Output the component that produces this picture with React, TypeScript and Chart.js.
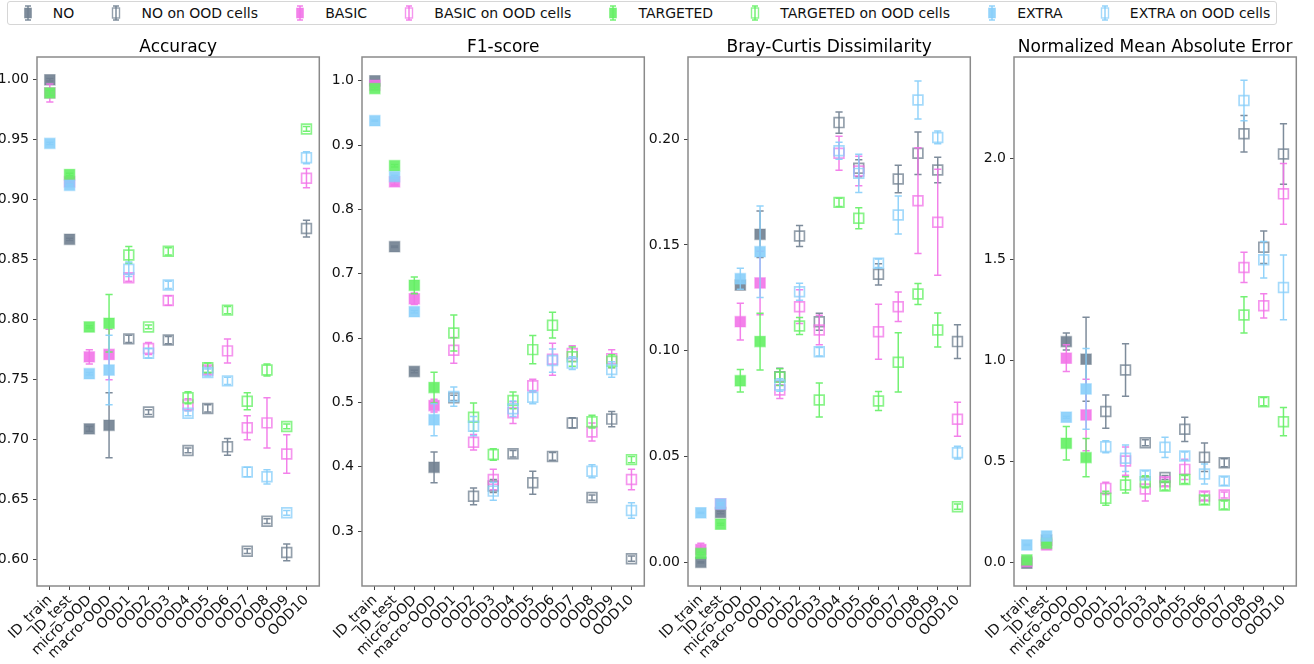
import React, { useEffect, useRef } from "react";
import { Chart, registerables } from "chart.js";

Chart.register(...registerables);

const categories = ["ID_train", "ID_test", "micro-OOD", "macro-OOD", "OOD1", "OOD2", "OOD3", "OOD4", "OOD5", "OOD6", "OOD7", "OOD8", "OOD9", "OOD10"];
const seriesNames = ["NO", "BASIC", "TARGETED", "EXTRA"];
const seriesRGB = ["112,128,144", "242,115,232", "100,240,100", "135,206,250"];
const FILLED_COUNT = 4;

// Accuracy
const accNO = [1.0, 0.867, 0.709, 0.712, 0.784, 0.723, 0.783, 0.691, 0.726, 0.694, 0.607, 0.632, 0.606, 0.876];
const accNOErr = [0.001, 0.001, 0.002, 0.027, 0.003, 0.002, 0.003, 0.002, 0.003, 0.007, 0.002, 0.002, 0.007, 0.007];
const accBASIC = [0.989, 0.915, 0.769, 0.771, 0.835, 0.776, 0.816, 0.729, 0.758, 0.774, 0.71, 0.714, 0.688, 0.918];
const accBASICErr = [0.0075, 0.002, 0.006, 0.021, 0.003, 0.005, 0.004, 0.005, 0.003, 0.01, 0.01, 0.021, 0.016, 0.008];
const accTARGETED = [0.989, 0.921, 0.794, 0.797, 0.854, 0.794, 0.857, 0.735, 0.76, 0.808, 0.732, 0.758, 0.711, 0.959];
const accTARGETEDErr = [0.002, 0.001, 0.001, 0.024, 0.007, 0.0015, 0.003, 0.005, 0.004, 0.003, 0.007, 0.005, 0.002, 0.002];
const accEXTRA = [0.947, 0.912, 0.755, 0.758, 0.842, 0.772, 0.829, 0.722, 0.756, 0.749, 0.673, 0.669, 0.639, 0.935];
const accEXTRAErr = [0.001, 0.001, 0.001, 0.029, 0.006, 0.004, 0.003, 0.002, 0.003, 0.003, 0.004, 0.006, 0.002, 0.005];
const accTicks = [0.6, 0.65, 0.7, 0.75, 0.8, 0.85, 0.9, 0.95, 1.0];
const accTickLabels = ["0.60", "0.65", "0.70", "0.75", "0.80", "0.85", "0.90", "0.95", "1.00"];

// F1-score
const f1NO = [1.0, 0.742, 0.548, 0.399, 0.507, 0.354, 0.37, 0.42, 0.375, 0.416, 0.468, 0.352, 0.474, 0.257];
const f1NOErr = [0.001, 0.001, 0.002, 0.024, 0.004, 0.013, 0.01, 0.005, 0.018, 0.006, 0.008, 0.004, 0.012, 0.004];
const f1BASIC = [0.993, 0.843, 0.661, 0.495, 0.581, 0.438, 0.38, 0.484, 0.526, 0.567, 0.576, 0.454, 0.568, 0.38];
const f1BASICErr = [0.002, 0.005, 0.009, 0.01, 0.02, 0.012, 0.016, 0.017, 0.01, 0.025, 0.012, 0.014, 0.014, 0.016];
const f1TARGETED = [0.988, 0.868, 0.682, 0.523, 0.608, 0.477, 0.419, 0.503, 0.582, 0.62, 0.571, 0.47, 0.564, 0.411];
const f1TARGETEDErr = [0.002, 0.002, 0.013, 0.024, 0.028, 0.022, 0.009, 0.013, 0.022, 0.02, 0.015, 0.01, 0.01, 0.005];
const f1EXTRA = [0.938, 0.851, 0.641, 0.473, 0.509, 0.463, 0.362, 0.49, 0.508, 0.565, 0.561, 0.393, 0.551, 0.332];
const f1EXTRAErr = [0.001, 0.002, 0.002, 0.025, 0.015, 0.015, 0.014, 0.012, 0.01, 0.018, 0.01, 0.01, 0.012, 0.012];
const f1Ticks = [0.3, 0.4, 0.5, 0.6, 0.7, 0.8, 0.9, 1.0];
const f1TickLabels = ["0.3", "0.4", "0.5", "0.6", "0.7", "0.8", "0.9", "1.0"];

// Bray-Curtis Dissimilarity
const bcNO = [0.0, 0.0235, 0.131, 0.155, 0.0877, 0.1542, 0.1137, 0.2078, 0.1862, 0.1361, 0.1811, 0.1933, 0.1854, 0.1043];
const bcNOErr = [0.0003, 0.0005, 0.002, 0.011, 0.004, 0.005, 0.004, 0.005, 0.004, 0.005, 0.0065, 0.01, 0.006, 0.008];
const bcBASIC = [0.006, 0.0276, 0.1137, 0.132, 0.0814, 0.1208, 0.1098, 0.1933, 0.1849, 0.109, 0.1208, 0.1709, 0.1607, 0.0676];
const bcBASICErr = [0.003, 0.0005, 0.0087, 0.015, 0.004, 0.008, 0.007, 0.008, 0.007, 0.013, 0.007, 0.025, 0.025, 0.008];
const bcTARGETED = [0.0042, 0.018, 0.0858, 0.1043, 0.0875, 0.1117, 0.0767, 0.1701, 0.1626, 0.0762, 0.0945, 0.1268, 0.1098, 0.0263];
const bcTARGETEDErr = [0.0005, 0.0005, 0.0053, 0.0134, 0.004, 0.004, 0.008, 0.002, 0.005, 0.0045, 0.014, 0.005, 0.008, 0.0012];
const bcEXTRA = [0.0234, 0.0276, 0.134, 0.1468, 0.0838, 0.1279, 0.0995, 0.1945, 0.1838, 0.1413, 0.1641, 0.2185, 0.2008, 0.0518];
const bcEXTRAErr = [0.0003, 0.0005, 0.005, 0.0216, 0.003, 0.004, 0.002, 0.004, 0.009, 0.002, 0.009, 0.009, 0.003, 0.003];
const bcTicks = [0.0, 0.05, 0.1, 0.15, 0.2];
const bcTickLabels = ["0.00", "0.05", "0.10", "0.15", "0.20"];

// Normalized Mean Absolute Error
const nmNO = [-0.004, 0.11, 1.092, 1.005, 0.746, 0.952, 0.592, 0.42, 0.658, 0.52, 0.493, 2.12, 1.559, 2.02];
const nmNOErr = [0.005, 0.005, 0.042, 0.208, 0.082, 0.13, 0.015, 0.01, 0.06, 0.07, 0.02, 0.09, 0.08, 0.15];
const nmBASIC = [0.004, 0.086, 1.01, 0.729, 0.366, 0.501, 0.363, 0.399, 0.46, 0.328, 0.333, 1.459, 1.269, 1.823];
const nmBASICErr = [0.005, 0.01, 0.066, 0.177, 0.03, 0.07, 0.06, 0.02, 0.05, 0.02, 0.015, 0.075, 0.06, 0.15];
const nmTARGETED = [0.012, 0.094, 0.589, 0.518, 0.317, 0.383, 0.399, 0.378, 0.41, 0.308, 0.284, 1.224, 0.795, 0.696];
const nmTARGETEDErr = [0.005, 0.005, 0.083, 0.095, 0.035, 0.04, 0.03, 0.02, 0.02, 0.02, 0.02, 0.09, 0.02, 0.07];
const nmEXTRA = [0.086, 0.13, 0.718, 0.858, 0.572, 0.515, 0.432, 0.569, 0.526, 0.437, 0.402, 2.285, 1.497, 1.36];
const nmEXTRAErr = [0.003, 0.003, 0.005, 0.2, 0.03, 0.065, 0.02, 0.05, 0.02, 0.05, 0.02, 0.1, 0.09, 0.16];
const nmTicks = [0.0, 0.5, 1.0, 1.5, 2.0];
const nmTickLabels = ["0.0", "0.5", "1.0", "1.5", "2.0"];

const FONT = "'DejaVu Sans', 'Liberation Sans', sans-serif";

type Panel = {
  title: string;
  means: number[][];
  errs: number[][];
  yMin: number;
  yMax: number;
  ticks: number[];
  tickLabels: string[];
  plotLeft: number;
};

const panels: Panel[] = [
  { title: "Accuracy", means: [accNO, accBASIC, accTARGETED, accEXTRA], errs: [accNOErr, accBASICErr, accTARGETEDErr, accEXTRAErr], yMin: 0.578, yMax: 1.019, ticks: accTicks, tickLabels: accTickLabels, plotLeft: 37 },
  { title: "F1-score", means: [f1NO, f1BASIC, f1TARGETED, f1EXTRA], errs: [f1NOErr, f1BASICErr, f1TARGETEDErr, f1EXTRAErr], yMin: 0.2145, yMax: 1.037, ticks: f1Ticks, tickLabels: f1TickLabels, plotLeft: 362 },
  { title: "Bray-Curtis Dissimilarity", means: [bcNO, bcBASIC, bcTARGETED, bcEXTRA], errs: [bcNOErr, bcBASICErr, bcTARGETEDErr, bcEXTRAErr], yMin: -0.0112, yMax: 0.2388, ticks: bcTicks, tickLabels: bcTickLabels, plotLeft: 688 },
  { title: "Normalized Mean Absolute Error", means: [nmNO, nmBASIC, nmTARGETED, nmEXTRA], errs: [nmNOErr, nmBASICErr, nmTARGETEDErr, nmEXTRAErr], yMin: -0.117, yMax: 2.5, ticks: nmTicks, tickLabels: nmTickLabels, plotLeft: 1014 },
];

const Y_AXIS_W = 49;
const PLOT_W = 283;
const RIGHT_PAD = 8;
const CANVAS_W = Y_AXIS_W + PLOT_W + RIGHT_PAD;
const CANVAS_TOP = 30;
const CANVAS_H = 634;
const X_AXIS_H = 78;
const TITLE_SPACE = 27;

const errorBarPlugin = {
  id: "errorBars",
  beforeDatasetDraw(chart: any, args: any) {
    const ds = chart.data.datasets[args.index];
    const errs: number[] = ds.errors;
    if (!errs) return;
    const xs = chart.scales.x;
    const ys = chart.scales.y;
    const ctx = chart.ctx;
    ctx.save();
    ctx.beginPath();
    ctx.rect(chart.chartArea.left, chart.chartArea.top, chart.chartArea.right - chart.chartArea.left, chart.chartArea.bottom - chart.chartArea.top);
    ctx.clip();
    ctx.strokeStyle = ds.errColor;
    ctx.lineWidth = 1.5;
    ds.data.forEach((p: any, i: number) => {
      const e = errs[i];
      const px = xs.getPixelForValue(p.x);
      const yTop = ys.getPixelForValue(p.y + e);
      const yBot = ys.getPixelForValue(p.y - e);
      ctx.beginPath();
      ctx.moveTo(px, yTop);
      ctx.lineTo(px, yBot);
      ctx.moveTo(px - 3.6, yTop);
      ctx.lineTo(px + 3.6, yTop);
      ctx.moveTo(px - 3.6, yBot);
      ctx.lineTo(px + 3.6, yBot);
      ctx.stroke();
    });
    ctx.restore();
  },
};

const framePlugin = {
  id: "frame",
  afterDatasetsDraw(chart: any) {
    const { left, top, right, bottom } = chart.chartArea;
    const ctx = chart.ctx;
    ctx.save();
    ctx.strokeStyle = "#8a8a8a";
    ctx.lineWidth = 1.5;
    ctx.strokeRect(left, top, right - left, bottom - top);
    ctx.restore();
  },
};

const panelTitlePlugin = {
  id: "panelTitle",
  afterDraw(chart: any, _args: any, opts: any) {
    const { left, right, top } = chart.chartArea;
    const ctx = chart.ctx;
    ctx.save();
    ctx.fillStyle = "#000";
    ctx.font = `17px ${FONT}`;
    ctx.textAlign = "center";
    ctx.textBaseline = "alphabetic";
    ctx.fillText(opts.text, (left + right) / 2, top - 5);
    ctx.restore();
  },
};

function buildDatasets(p: Panel) {
  const out: any[] = [];
  seriesNames.forEach((name, s) => {
    const rgb = seriesRGB[s];
    const filledIdx = categories.map((_, i) => i).filter((i) => i < FILLED_COUNT);
    const openIdx = categories.map((_, i) => i).filter((i) => i >= FILLED_COUNT);
    out.push({
      label: name,
      data: filledIdx.map((i) => ({ x: i, y: p.means[s][i] })),
      errors: filledIdx.map((i) => p.errs[s][i]),
      errColor: `rgba(${rgb},0.9)`,
      pointStyle: "rect",
      pointRadius: 7.4,
      pointHoverRadius: 7.4,
      backgroundColor: `rgba(${rgb},0.9)`,
      borderColor: `rgba(${rgb},0.45)`,
      borderWidth: 1.3,
      order: 8 - 2 * s,
    });
    out.push({
      label: name + " on OOD cells",
      data: openIdx.map((i) => ({ x: i, y: p.means[s][i] })),
      errors: openIdx.map((i) => p.errs[s][i]),
      errColor: `rgba(${rgb},0.9)`,
      pointStyle: "rect",
      pointRadius: 6.9,
      pointHoverRadius: 6.9,
      backgroundColor: "rgba(0,0,0,0)",
      borderColor: `rgba(${rgb},0.75)`,
      borderWidth: 1.7,
      order: 7 - 2 * s,
    });
  });
  return out;
}

function PanelChart({ panel }: { panel: Panel }) {
  const ref = useRef<HTMLCanvasElement | null>(null);
  useEffect(() => {
    if (!ref.current) return;
    const chart = new Chart(ref.current, {
      type: "scatter",
      data: { datasets: buildDatasets(panel) },
      options: {
        animation: false,
        responsive: false,
        devicePixelRatio: 1,
        events: [],
        layout: { padding: { left: 0, right: RIGHT_PAD, top: TITLE_SPACE, bottom: 0 } },
        plugins: {
          legend: { display: false },
          tooltip: { enabled: false },
          title: { display: false },
          panelTitle: { text: panel.title },
        },
        scales: {
          x: {
            type: "linear",
            min: -0.65,
            max: 13.65,
            afterBuildTicks: (scale: any) => {
              scale.ticks = categories.map((_, i) => ({ value: i }));
            },
            afterFit: (scale: any) => {
              scale.height = X_AXIS_H;
            },
            ticks: {
              autoSkip: false,
              maxRotation: 45,
              minRotation: 45,
              padding: 2,
              color: "#111",
              font: { family: FONT, size: 14 },
              callback: (_v: any, i: number) => categories[i],
            },
            grid: { drawOnChartArea: false, drawTicks: true, tickLength: 4, color: "#444", lineWidth: 1 },
            border: { display: false },
          },
          y: {
            type: "linear",
            min: panel.yMin,
            max: panel.yMax,
            afterBuildTicks: (scale: any) => {
              scale.ticks = panel.ticks.map((v) => ({ value: v }));
            },
            afterFit: (scale: any) => {
              scale.width = Y_AXIS_W;
            },
            ticks: {
              padding: 4,
              color: "#111",
              font: { family: FONT, size: 14 },
              callback: (_v: any, i: number) => panel.tickLabels[i],
            },
            grid: { drawOnChartArea: false, drawTicks: true, tickLength: 4, color: "#444", lineWidth: 1 },
            border: { display: false },
          },
        },
      } as any,
      plugins: [errorBarPlugin, framePlugin, panelTitlePlugin],
    });
    return () => chart.destroy();
  }, [panel]);
  const left = panel.plotLeft - Y_AXIS_W;
  return (
    <canvas
      ref={ref}
      width={CANVAS_W}
      height={CANVAS_H}
      style={{ position: "absolute", left, top: CANVAS_TOP, width: CANVAS_W, height: CANVAS_H }}
    />
  );
}

function LegendMarker({ rgb, filled }: { rgb: string; filled: boolean }) {
  return (
    <svg width={28} height={22} style={{ display: "block" }}>
      <line x1={14} y1={4} x2={14} y2={18} stroke={`rgba(${rgb},0.9)`} strokeWidth={1.5} />
      <line x1={11} y1={4} x2={17} y2={4} stroke={`rgba(${rgb},0.9)`} strokeWidth={1.5} />
      <line x1={11} y1={18} x2={17} y2={18} stroke={`rgba(${rgb},0.9)`} strokeWidth={1.5} />
      {filled ? (
        <rect x={10.5} y={6} width={7} height={10} fill={`rgba(${rgb},0.9)`} stroke={`rgba(${rgb},0.45)`} strokeWidth={1} />
      ) : (
        <rect x={10.5} y={6} width={7} height={10} fill="none" stroke={`rgba(${rgb},0.75)`} strokeWidth={1.4} />
      )}
    </svg>
  );
}

function Legend() {
  const items: { label: string; rgb: string; filled: boolean }[] = [];
  seriesNames.forEach((n, s) => {
    items.push({ label: n, rgb: seriesRGB[s], filled: true });
    items.push({ label: n + " on OOD cells", rgb: seriesRGB[s], filled: false });
  });
  return (
    <div
      style={{
        position: "absolute",
        left: 7,
        top: 1,
        height: 24,
        boxSizing: "border-box",
        border: "1px solid #d6d6d6",
        borderRadius: 3,
        padding: "0 6px 0 5.6px",
        display: "flex",
        alignItems: "center",
        fontFamily: FONT,
        fontSize: 14,
        color: "#111",
        whiteSpace: "nowrap",
        background: "#fff",
      }}
    >
      {items.map((it, i) => (
        <div key={i} style={{ display: "flex", alignItems: "center", marginLeft: i === 0 ? 0 : 28 }}>
          <LegendMarker rgb={it.rgb} filled={it.filled} />
          <span style={{ marginLeft: 11.2, lineHeight: "16px" }}>{it.label}</span>
        </div>
      ))}
    </div>
  );
}

export default function App() {
  return (
    <div style={{ position: "fixed", left: 0, top: 0, width: 1314, height: 664, background: "#fff", overflow: "hidden" }}>
      <Legend />
      {panels.map((p) => (
        <PanelChart key={p.title} panel={p} />
      ))}
    </div>
  );
}
